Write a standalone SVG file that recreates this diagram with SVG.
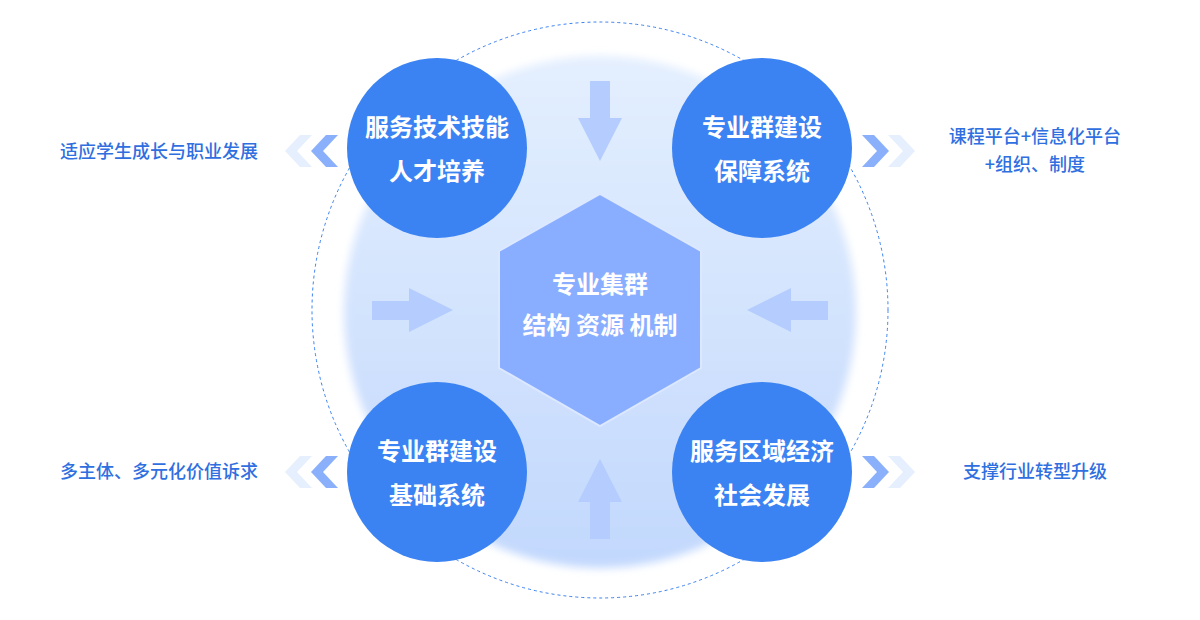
<svg xmlns="http://www.w3.org/2000/svg" width="1200" height="620" viewBox="0 0 1200 620">
<style>
.lbl{font-family:"Noto Sans CJK SC","Noto Sans",sans-serif;font-size:18px;font-weight:500;fill:#2f6fe0}
.ct{font-family:"Noto Sans CJK SC","Noto Sans",sans-serif;font-size:24px;font-weight:700;fill:#fff;text-anchor:middle}
.node{fill:#3b82f2}
.arr{fill:#b5cdfe}
.chD{fill:#8ab0fb}
.chL{fill:#e6effe}
</style>
<defs>
<linearGradient id="g" x1="0" y1="0" x2="0" y2="1">
<stop offset="0" stop-color="#e4effe"/>
<stop offset="1" stop-color="#c2d8fd"/>
</linearGradient>
<filter id="blur" x="-10%" y="-10%" width="120%" height="120%"><feGaussianBlur stdDeviation="4"/></filter>
</defs>
<rect width="1200" height="620" fill="#fff"/>
<circle cx="600" cy="310" r="288" fill="none" stroke="#3b82f2" stroke-width="1" stroke-dasharray="3 3"/>
<circle cx="600" cy="312" r="256" fill="url(#g)" filter="url(#blur)"/>
<g id="connectors">
<polygon class="arr" points="590,81 610,81 610,118 622,118 600,161 578,118 590,118"/>
<polygon class="arr" points="590,539 610,539 610,502 622,502 600,459 578,502 590,502"/>
<polygon class="arr" points="372,301 409,301 409,288 453,310 409,332 409,320 372,320"/>
<polygon class="arr" points="828,301 791,301 791,288 747,310 791,332 791,320 828,320"/>
</g>
<g id="hex">
<polygon points="600,194 701,251 701,368 600,426 499,368 499,251" fill="#8aaeff" stroke="#dce8ff" stroke-width="2"/>
<text class="ct" x="600" y="293">专业集群</text>
<text class="ct" x="600" y="334">结构 资源 机制</text>
</g>
<g id="n1">
<circle class="node" cx="437" cy="148" r="90"/>
<text class="ct" x="437" y="136">服务技术技能</text>
<text class="ct" x="437" y="180">人才培养</text>
</g>
<g id="n2">
<circle class="node" cx="762" cy="148" r="90"/>
<text class="ct" x="762" y="136">专业群建设</text>
<text class="ct" x="762" y="180">保障系统</text>
</g>
<g id="n3">
<circle class="node" cx="437" cy="472" r="90"/>
<text class="ct" x="437" y="460">专业群建设</text>
<text class="ct" x="437" y="504">基础系统</text>
</g>
<g id="n4">
<circle class="node" cx="762" cy="472" r="90"/>
<text class="ct" x="762" y="460">服务区域经济</text>
<text class="ct" x="762" y="504">社会发展</text>
</g>
<g id="chevrons">
<polygon class="chL" points="312,135 300,135 285,151 300,167 312,167 297,151"/>
<polygon class="chD" points="338,135 326,135 311,151 326,167 338,167 323,151"/>
<polygon class="chL" points="312,456 300,456 285,472 300,488 312,488 297,472"/>
<polygon class="chD" points="338,456 326,456 311,472 326,488 338,488 323,472"/>
<polygon class="chD" points="862,135 874,135 889,151 874,167 862,167 877,151"/>
<polygon class="chL" points="888,135 900,135 915,151 900,167 888,167 903,151"/>
<polygon class="chD" points="862,456 874,456 889,472 874,488 862,488 877,472"/>
<polygon class="chL" points="888,456 900,456 915,472 900,488 888,488 903,472"/>
</g>
<g id="labels">
<text class="lbl" x="60" y="158">适应学生成长与职业发展</text>
<text class="lbl" x="60" y="478">多主体、多元化价值诉求</text>
<text class="lbl" x="1035" y="143" text-anchor="middle">课程平台+信息化平台</text>
<text class="lbl" x="1035" y="171" text-anchor="middle">+组织、制度</text>
<text class="lbl" x="1035" y="478" text-anchor="middle">支撑行业转型升级</text>
</g>
</svg>
